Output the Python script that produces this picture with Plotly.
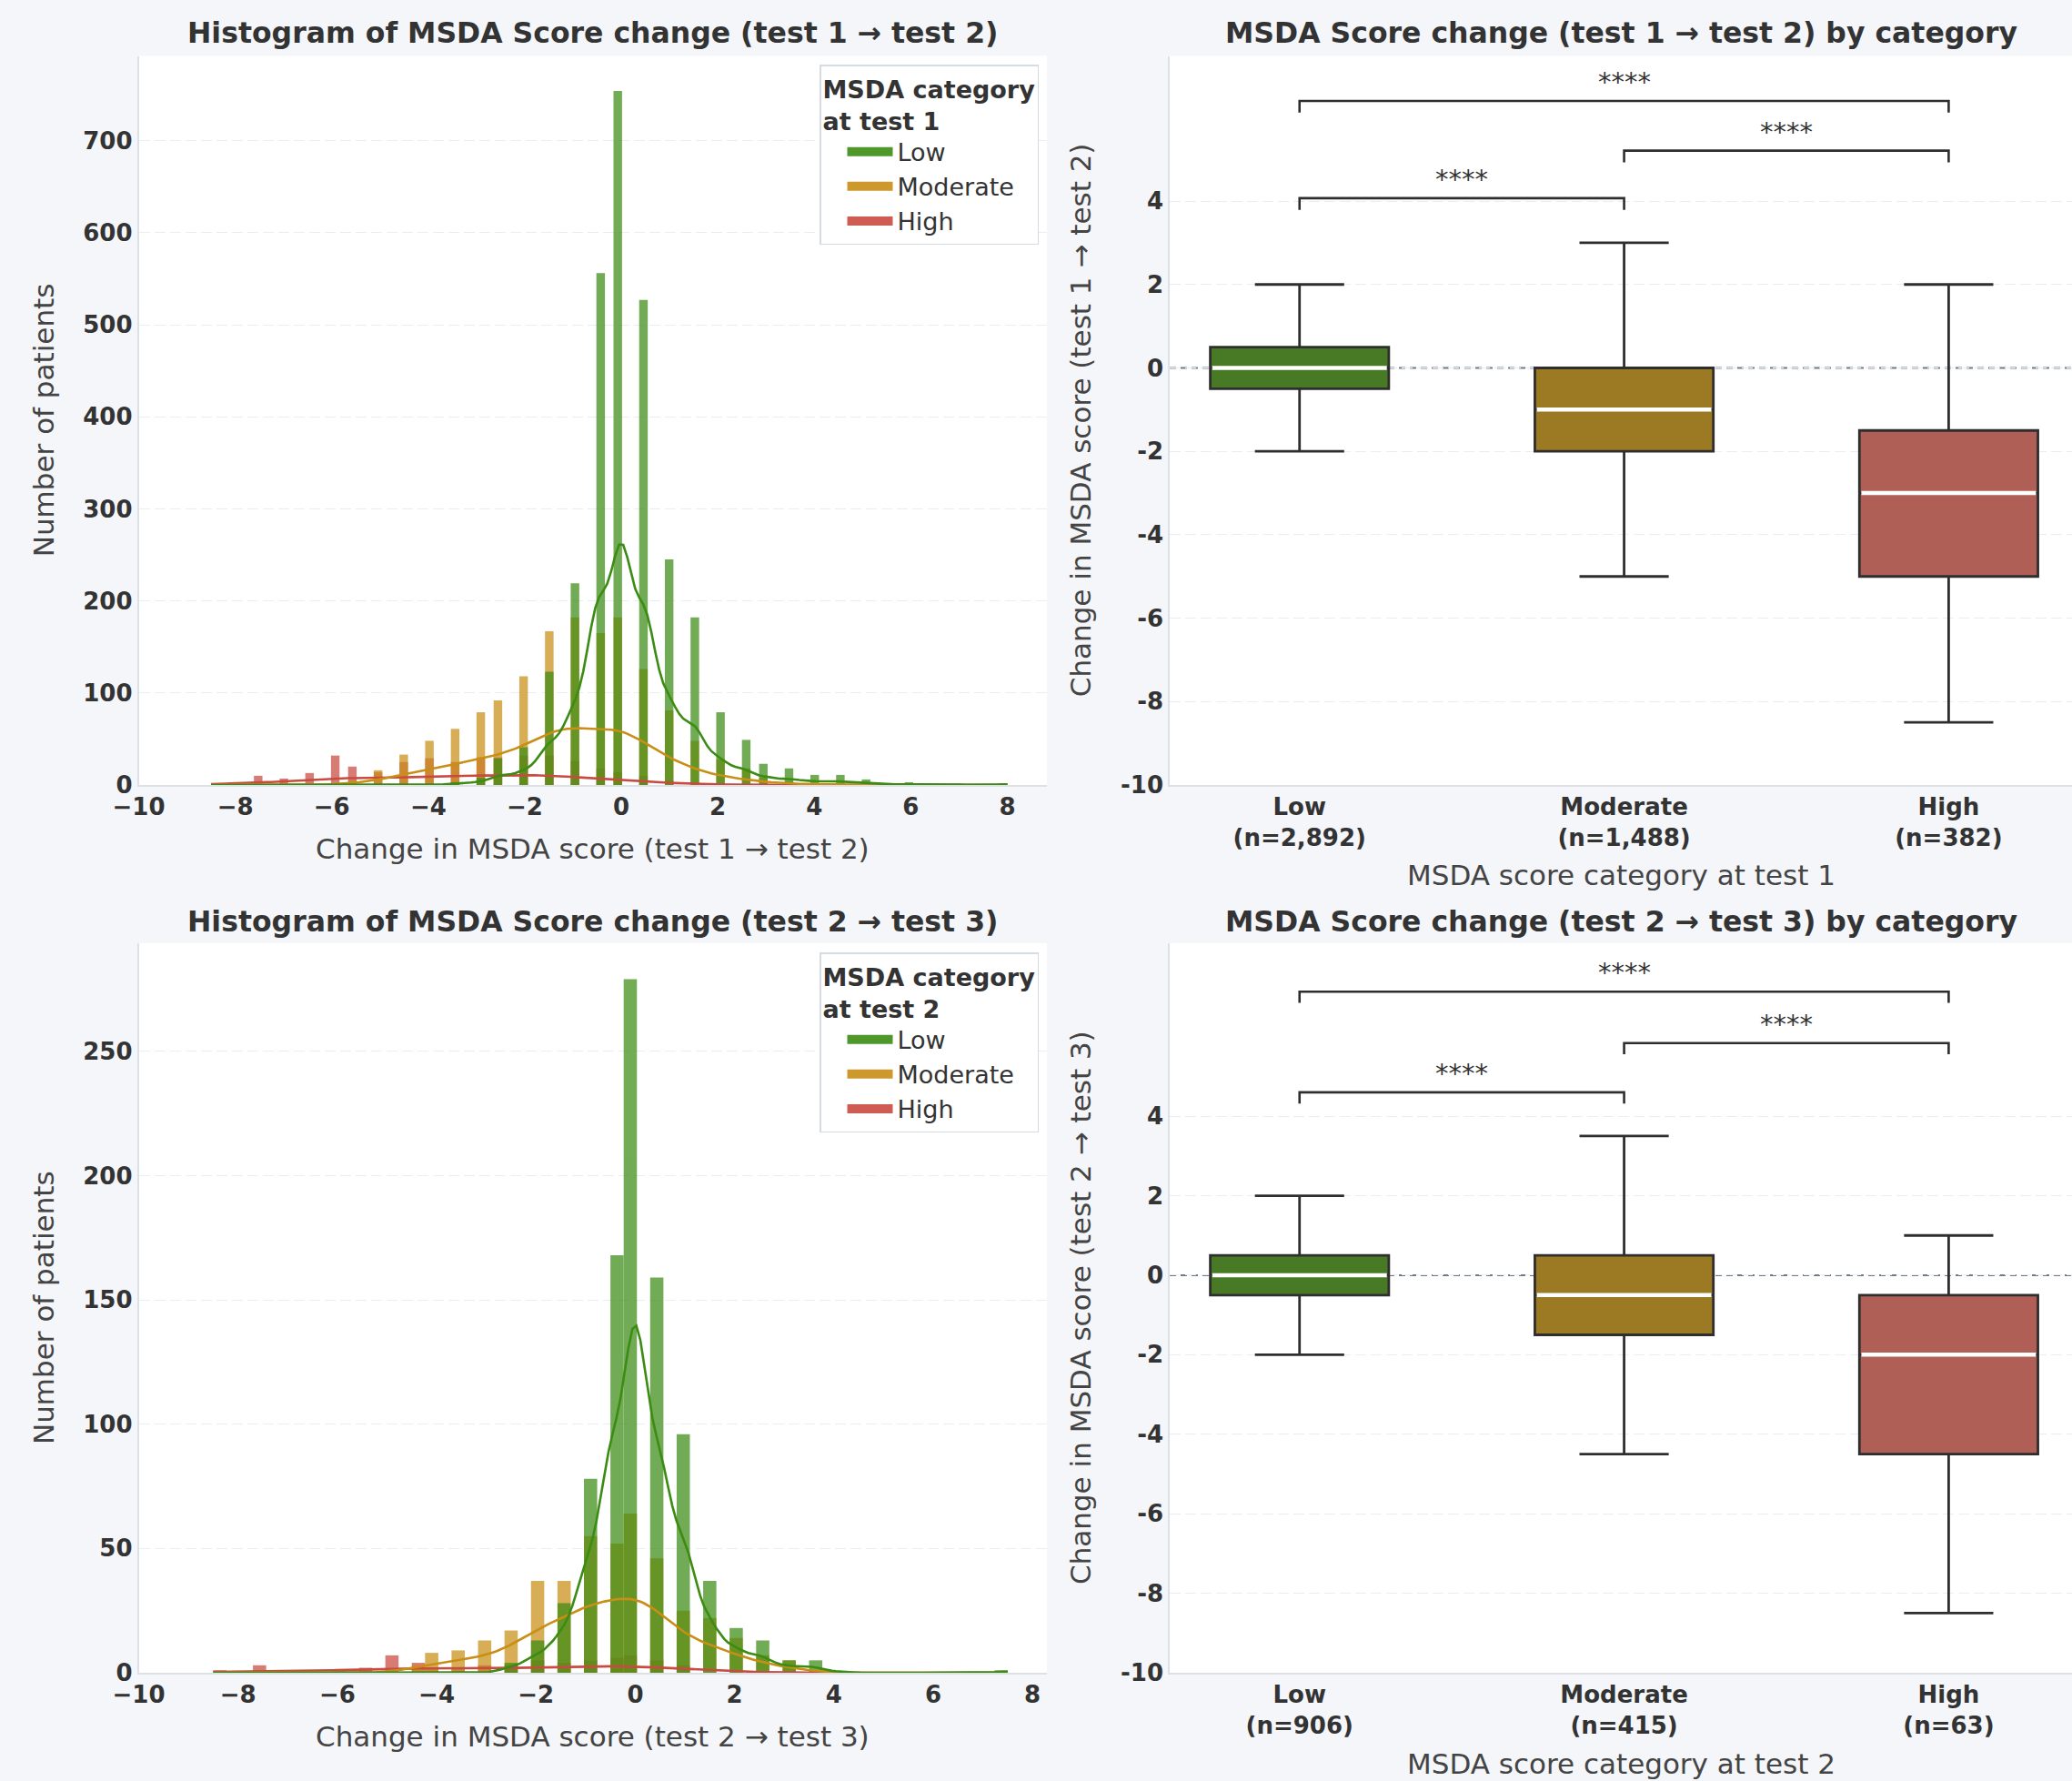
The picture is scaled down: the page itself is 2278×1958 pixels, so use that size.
import numpy as np
import plotly.graph_objects as go

# ---------------------------------------------------------------- data
CATEGORIES = ["Low", "Moderate", "High"]

# test 1 -> test 2 : score-change values and patient counts per category
VALUES_12 = [-8.5, -8.0, -7.5, -7.0, -6.5, -6.0, -5.5, -5.0, -4.5, -4.0, -3.5, -3.0,
             -2.5, -2.0, -1.5, -1.0, -0.5, 0.0, 0.5, 1.0, 1.5, 2.0, 2.5, 3.0, 3.5,
             4.0, 4.5, 5.0, 5.5, 6.0, 6.5, 7.0, 7.5, 8.0]
LOW_12 = [0, 0, 0, 0, 0, 0, 0, 0, 0, 0, 3, 8, 29, 41, 123, 219, 556, 754, 527, 245,
          182, 79, 49, 23, 18, 11, 11, 6, 1, 3, 1, 1, 0, 2]
MOD_12 = [0, 0, 0, 0, 0, 2, 5, 16, 33, 48, 61, 79, 92, 118, 167, 182, 165, 182, 126,
          81, 48, 28, 18, 8, 4, 2, 1, 1, 0, 0, 0, 0, 0, 0]
HIGH_12 = [2, 3, 10, 7, 13, 32, 20, 14, 25, 29, 25, 30, 30, 32, 32, 26, 18, 14, 10,
           5, 3, 2, 0, 0, 0, 0, 0, 0, 0, 0, 0, 0, 0, 0]

# test 2 -> test 3
VALUES_23 = [-8.5, -8.0, -7.5, -7.0, -6.5, -6.0, -5.5, -5.0, -4.5, -4.0, -3.5, -3.0,
             -2.5, -2.0, -1.5, -1.0, -0.5, 0.0, 0.5, 1.0, 1.5, 2.0, 2.5, 3.0, 3.5,
             4.0, 4.5, 5.0, 5.5, 6.0, 6.5, 7.0, 7.5]
LOW_23 = [0, 0, 0, 0, 0, 0, 0, 0, 0, 0, 0, 0, 4, 13, 28, 78, 168, 279, 159, 96, 37,
          18, 13, 5, 5, 1, 0, 0, 0, 0, 0, 0, 1]
MOD_23 = [0, 0, 0, 0, 0, 0, 0, 0, 3, 8, 9, 13, 17, 37, 37, 55, 52, 64, 46, 25, 22,
          14, 7, 5, 1, 0, 0, 0, 0, 0, 0, 0, 0]
HIGH_23 = [1, 0, 3, 0, 0, 1, 2, 7, 4, 2, 2, 3, 3, 5, 4, 5, 6, 7, 5, 3, 0, 0, 0, 0,
           0, 0, 0, 0, 0, 0, 0, 0, 0]

N_BINS_12 = 93
N_BINS_23 = 60

N_12 = [2892, 1488, 382]
N_23 = [906, 415, 63]

# box statistics (no outliers drawn)
Q1_12 = [-0.5, -2.0, -5.0]
MED_12 = [0.0, -1.0, -3.0]
Q3_12 = [0.5, 0.0, -1.5]
WLO_12 = [-2.0, -5.0, -8.5]
WHI_12 = [2.0, 3.0, 2.0]

Q1_23 = [-0.5, -1.5, -4.5]
MED_23 = [0.0, -0.5, -2.0]
Q3_23 = [0.5, 0.5, -0.5]
WLO_23 = [-2.0, -4.5, -8.5]
WHI_23 = [2.0, 3.5, 1.0]

SIG_PAIRS = [(0, 1), (1, 2), (0, 2)]
SIG_LABELS = ["****", "****", "****"]

HIST_X_TICKS = [-10, -8, -6, -4, -2, 0, 2, 4, 6, 8]
HIST_Y_TICKS_12 = [0, 100, 200, 300, 400, 500, 600, 700]
HIST_Y_TICKS_23 = [0, 50, 100, 150, 200, 250]
BOX_Y_TICKS = [-10, -8, -6, -4, -2, 0, 2, 4]

# ---------------------------------------------------------------- style
FONT = "DejaVu Sans"
TXT = "#333333"
PAPER = "#f4f6fa"
HIST_COLORS = {"Low": "#3c8c14", "Moderate": "#c88e16", "High": "#c94a40"}
BOX_COLORS = {"Low": "#487a26", "Moderate": "#9c7a24", "High": "#b05f57"}
BOX_WIDTH = 0.55
W, H = 2278, 1958

HIST_DOM_X = [152.5 / W, 1151 / W]
BOX_DOM_X = [1286 / W, 1.0]
TOP_DOM_Y = [1 - 863 / H, 1 - 61.5 / H]
BOT_DOM_Y = [1 - 1839 / H, 1 - 1037 / H]

BRACKET_Y_12 = [4.07, 5.21, 6.40]
BRACKET_Y_23 = [4.60, 5.84, 7.13]
BRACKET_DROP = 0.28

fig = go.Figure()


def add_hist(values, cat_counts, nbins, xa, ya, legend):
    allc = np.sum([np.asarray(c) for c in cat_counts.values()], axis=0)
    v = np.asarray(values, float)
    nz = v[allc > 0]
    lo, hi = nz.min(), nz.max()
    edges = np.linspace(lo, hi, nbins + 1)
    w = edges[1] - edges[0]
    centers = 0.5 * (edges[:-1] + edges[1:])
    grid = np.linspace(lo, hi, 200)
    order = list(reversed(CATEGORIES))
    for cat in order:
        c = np.asarray(cat_counts[cat], int)
        samples = np.repeat(v, c)
        samples = np.minimum(samples + 1e-9, hi)
        h, _ = np.histogram(samples, bins=edges)
        m = h > 0
        fig.add_trace(go.Bar(
            x=centers[m], y=h[m], width=w, name=cat, showlegend=False,
            marker=dict(color=HIST_COLORS[cat], line=dict(width=0)),
            opacity=0.72, xaxis=xa, yaxis=ya, hoverinfo="skip"))
    for cat in order:
        c = np.asarray(cat_counts[cat], float)
        n = c.sum()
        mean = (v * c).sum() / n
        sd = np.sqrt(((v - mean) ** 2 * c).sum() / (n - 1))
        bw = sd * n ** (-0.2)
        dens = (c[None, :] * np.exp(-0.5 * ((grid[:, None] - v[None, :]) / bw) ** 2)).sum(1)
        dens /= n * bw * np.sqrt(2 * np.pi)
        fig.add_trace(go.Scatter(
            x=grid, y=dens * n * w, mode="lines",
            line=dict(color=HIST_COLORS[cat], width=2.6),
            showlegend=False, xaxis=xa, yaxis=ya, hoverinfo="skip"))
    # legend patches
    for cat in CATEGORIES:
        fig.add_trace(go.Scatter(
            x=[None], y=[None], mode="lines", name=cat,
            line=dict(color=HIST_COLORS[cat], width=10), opacity=0.9,
            legend=legend, legendrank=CATEGORIES.index(cat) + 1,
            xaxis=xa, yaxis=ya, hoverinfo="skip"))


def add_box(q1, med, q3, wlo, whi, brackets, xa, ya):
    for i, cat in enumerate(CATEGORIES):
        fig.add_trace(go.Box(
            x=[i], q1=[q1[i]], median=[med[i]], q3=[q3[i]],
            lowerfence=[wlo[i]], upperfence=[whi[i]],
            width=BOX_WIDTH, whiskerwidth=0.5, boxpoints=False,
            fillcolor=BOX_COLORS[cat], line=dict(color="#2e2e2e", width=2.8),
            showlegend=False, xaxis=xa, yaxis=ya, hoverinfo="skip"))
        half = BOX_WIDTH / 2 - 0.006
        fig.add_trace(go.Scatter(
            x=[i - half, i + half], y=[med[i], med[i]], mode="lines",
            line=dict(color="white", width=4.5), showlegend=False,
            xaxis=xa, yaxis=ya, hoverinfo="skip"))
    for (a, b), lab, hy in zip(SIG_PAIRS, SIG_LABELS, brackets):
        fig.add_trace(go.Scatter(
            x=[a, a, b, b], y=[hy - BRACKET_DROP, hy, hy, hy - BRACKET_DROP],
            mode="lines", line=dict(color="#2e2e2e", width=2.6),
            showlegend=False, xaxis=xa, yaxis=ya, hoverinfo="skip"))
        fig.add_annotation(x=(a + b) / 2, y=hy, xref=xa, yref=ya, text=lab,
                           showarrow=False, yanchor="bottom", yshift=2,
                           font=dict(family=FONT, size=29, color=TXT))
    fig.add_shape(type="line", xref=f"{xa} domain", x0=0, x1=1, yref=ya, y0=0, y1=0,
                  line=dict(color="#6f7b8a", width=2, dash="7px,5px"), layer="below")


add_hist(VALUES_12, {"Low": LOW_12, "Moderate": MOD_12, "High": HIGH_12},
         N_BINS_12, "x", "y", "legend")
add_hist(VALUES_23, {"Low": LOW_23, "Moderate": MOD_23, "High": HIGH_23},
         N_BINS_23, "x3", "y3", "legend2")
add_box(Q1_12, MED_12, Q3_12, WLO_12, WHI_12, BRACKET_Y_12, "x2", "y2")
add_box(Q1_23, MED_23, Q3_23, WLO_23, WHI_23, BRACKET_Y_23, "x4", "y4")

tickfont = dict(family=FONT, size=26, color=TXT, weight="bold")
axis_common = dict(showline=True, linecolor="#dce1e7", linewidth=1.5, ticks="",
                   tickfont=tickfont, zeroline=False, automargin=False)
grid_common = dict(showgrid=True, gridcolor="#eaedf1", gridwidth=1, griddash="12px,5px")


def box_ticktext(ns):
    return [f"{c}<br>(n={n:,})" for c, n in zip(CATEGORIES, ns)]


fig.update_layout(
    width=W, height=H, margin=dict(l=0, r=0, t=0, b=0, autoexpand=False),
    paper_bgcolor=PAPER, plot_bgcolor="white", barmode="overlay",
    font=dict(family=FONT, color=TXT),
    xaxis=dict(domain=HIST_DOM_X, anchor="y", range=[-10, 8.82],
               tickvals=HIST_X_TICKS, showgrid=False, **axis_common),
    yaxis=dict(domain=TOP_DOM_Y, anchor="x", range=[0, 792],
               tickvals=HIST_Y_TICKS_12, **grid_common, **axis_common),
    xaxis2=dict(domain=BOX_DOM_X, anchor="y2", range=[-0.4, 2.38],
                tickvals=[0, 1, 2], ticktext=box_ticktext(N_12), showgrid=False,
                **axis_common),
    yaxis2=dict(domain=TOP_DOM_Y, anchor="x2", range=[-10, 7.48],
                tickvals=BOX_Y_TICKS, ticktext=[str(t) for t in BOX_Y_TICKS],
                **grid_common, **axis_common),
    xaxis3=dict(domain=HIST_DOM_X, anchor="y3", range=[-10, 8.29],
                tickvals=HIST_X_TICKS, showgrid=False, **axis_common),
    yaxis3=dict(domain=BOT_DOM_Y, anchor="x3", range=[0, 293.5],
                tickvals=HIST_Y_TICKS_23, **grid_common, **axis_common),
    xaxis4=dict(domain=BOX_DOM_X, anchor="y4", range=[-0.4, 2.38],
                tickvals=[0, 1, 2], ticktext=box_ticktext(N_23), showgrid=False,
                **axis_common),
    yaxis4=dict(domain=BOT_DOM_Y, anchor="x4", range=[-10, 8.35],
                tickvals=BOX_Y_TICKS, ticktext=[str(t) for t in BOX_Y_TICKS],
                **grid_common, **axis_common),
)

leg_common = dict(xanchor="right", yanchor="top", bgcolor="white",
                  bordercolor="#d5dbe2", borderwidth=1.5, tracegroupgap=0,
                  itemwidth=50, indentation=24,
                  font=dict(family=FONT, size=27, color=TXT))
fig.update_layout(
    legend=dict(x=1142 / W, y=1 - 71 / H,
                title=dict(text="<b>MSDA category<br>at test 1</b>",
                           font=dict(family=FONT, size=27, color=TXT)), **leg_common),
    legend2=dict(x=1142 / W, y=1 - 1047 / H,
                 title=dict(text="<b>MSDA category<br>at test 2</b>",
                            font=dict(family=FONT, size=27, color=TXT)), **leg_common),
)

title_font = dict(family=FONT, size=31.5, color=TXT, weight="bold")
label_font = dict(family=FONT, size=31, color="#444444")
hist_cx = (HIST_DOM_X[0] + HIST_DOM_X[1]) / 2
box_cx = (BOX_DOM_X[0] + BOX_DOM_X[1]) / 2
texts = [
    ("Histogram of MSDA Score change (test 1 → test 2)", hist_cx, 1 - 36 / H, title_font, 0),
    ("MSDA Score change (test 1 → test 2) by category", box_cx, 1 - 36 / H, title_font, 0),
    ("Histogram of MSDA Score change (test 2 → test 3)", hist_cx, 1 - 1013 / H, title_font, 0),
    ("MSDA Score change (test 2 → test 3) by category", box_cx, 1 - 1013 / H, title_font, 0),
    ("Change in MSDA score (test 1 → test 2)", hist_cx, 1 - 933 / H, label_font, 0),
    ("Change in MSDA score (test 2 → test 3)", hist_cx, 1 - 1909 / H, label_font, 0),
    ("MSDA score category at test 1", box_cx, 1 - 962 / H, label_font, 0),
    ("MSDA score category at test 2", box_cx, 1 - 1939 / H, label_font, 0),
    ("Number of patients", 48 / W, sum(TOP_DOM_Y) / 2, label_font, -90),
    ("Number of patients", 48 / W, sum(BOT_DOM_Y) / 2, label_font, -90),
    ("Change in MSDA score (test 1 → test 2)", 1188 / W, sum(TOP_DOM_Y) / 2, label_font, -90),
    ("Change in MSDA score (test 2 → test 3)", 1188 / W, sum(BOT_DOM_Y) / 2, label_font, -90),
]
for t, x, y, f, ang in texts:
    fig.add_annotation(text=t, x=x, y=y, xref="paper", yref="paper", showarrow=False,
                       xanchor="center", yanchor="middle", font=f, textangle=ang)

fig.write_html("out.html")
